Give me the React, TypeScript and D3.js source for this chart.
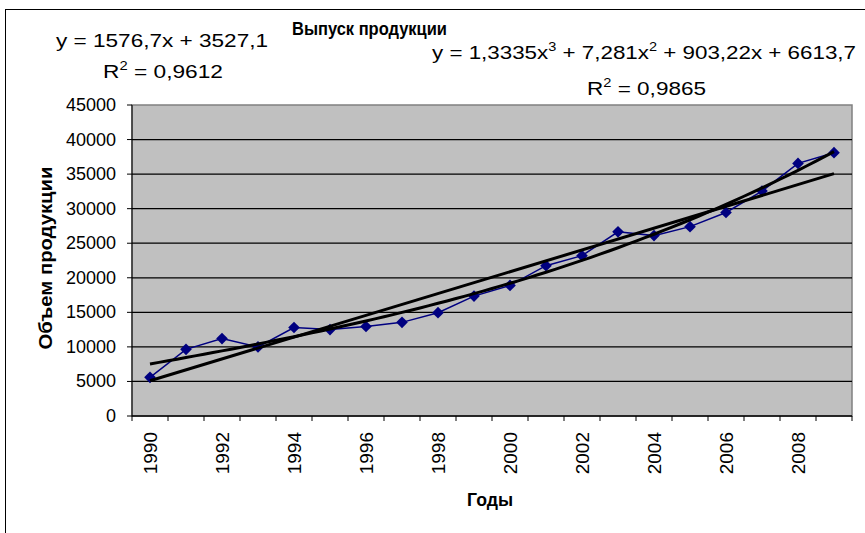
import * as d3 from "d3";

const years = [
  "1990", "1991", "1992", "1993", "1994", "1995", "1996", "1997", "1998", "1999",
  "2000", "2001", "2002", "2003", "2004", "2005", "2006", "2007", "2008", "2009",
];
const production = [
  5600, 9650, 11200, 10000, 12800, 12500, 12950, 13550, 14950, 17350,
  18900, 21750, 23200, 26650, 26100, 27400, 29450, 32550, 36550, 38100,
];
const yTicks = [0, 5000, 10000, 15000, 20000, 25000, 30000, 35000, 40000, 45000];
const xLabels = ["1990", "1992", "1994", "1996", "1998", "2000", "2002", "2004", "2006", "2008"];

// trendline coefficients as printed on the chart
const linCoef = [1576.7, 3527.1];
const polyCoef = [1.3335, 7.281, 903.22, 6613.7];

const W = 865;
const H = 533;
const plot = { left: 132, right: 852, top: 105, bottom: 416 };
const font = "'Liberation Sans', Arial, sans-serif";

export default function App() {
  const x = d3.scaleBand<string>().domain(years).range([plot.left, plot.right]);
  const cx = (yr: string) => (x(yr) ?? 0) + x.bandwidth() / 2;
  const y = d3.scaleLinear().domain([0, 45000]).range([plot.bottom, plot.top]);
  // trendline x is the point index 1..20
  const xi = d3.scaleLinear().domain([1, years.length]).range([cx(years[0]), cx(years[years.length - 1])]);

  const dataLine = d3
    .line<number>()
    .x((_, i) => cx(years[i]))
    .y((d) => y(d))(production);

  const linLine = d3
    .line<number>()
    .x((t) => xi(t))
    .y((t) => y(linCoef[0] * t + linCoef[1]))([1, years.length]);

  const steps = d3.range(1, years.length + 0.001, 0.25);
  const polyLine = d3
    .line<number>()
    .x((t) => xi(t))
    .y((t) => y(polyCoef[0] * t ** 3 + polyCoef[1] * t ** 2 + polyCoef[2] * t + polyCoef[3]))(steps);

  const diamond = d3.symbol().type(d3.symbolSquare).size(68)();

  return (
    <svg
      width={W}
      height={H}
      style={{ position: "absolute", left: 0, top: 0, background: "#fff" }}
      fontFamily={font}
    >
      <rect x={5.5} y={9.5} width={W + 20} height={H + 20} fill="#fff" stroke="#000" />

      {/* plot area */}
      <rect
        x={plot.left}
        y={plot.top}
        width={plot.right - plot.left}
        height={plot.bottom - plot.top}
        fill="#C0C0C0"
        stroke="#808080"
        strokeWidth={1.5}
      />
      {yTicks.slice(1, -1).map((t) => (
        <line key={t} x1={plot.left} x2={plot.right} y1={y(t)} y2={y(t)} stroke="#000" strokeWidth={1.2} />
      ))}

      {/* axes */}
      <line x1={plot.left} x2={plot.left} y1={plot.top} y2={plot.bottom} stroke="#000" />
      <line x1={plot.left} x2={plot.right} y1={plot.bottom} y2={plot.bottom} stroke="#000" strokeWidth={1.5} />
      {yTicks.map((t) => (
        <g key={t}>
          <line x1={plot.left - 5} x2={plot.left} y1={y(t)} y2={y(t)} stroke="#000" />
          <text x={116} y={y(t)} textAnchor="end" dominantBaseline="central" fontSize={18}>
            {t}
          </text>
        </g>
      ))}
      {years.concat(["end"]).map((yr, i) => {
        const px = plot.left + i * x.bandwidth();
        return <line key={yr} x1={px} x2={px} y1={plot.bottom} y2={plot.bottom + 5} stroke="#000" />;
      })}
      {xLabels.map((yr) => (
        <text
          key={yr}
          transform={`translate(${cx(yr)},432) rotate(-90)`}
          textAnchor="end"
          dominantBaseline="central"
          fontSize={19}
        >
          {yr}
        </text>
      ))}

      {/* series and trendlines */}
      <path d={dataLine ?? ""} fill="none" stroke="#000080" strokeWidth={1.5} />
      {production.map((v, i) => (
        <path key={i} d={diamond ?? ""} transform={`translate(${cx(years[i])},${y(v)}) rotate(45)`} fill="#000080" />
      ))}
      <path d={linLine ?? ""} fill="none" stroke="#000" strokeWidth={3} />
      <path d={polyLine ?? ""} fill="none" stroke="#000" strokeWidth={3} />

      {/* titles */}
      <text x={292} y={35} fontSize={19} fontWeight="bold" textLength={155} lengthAdjust="spacingAndGlyphs">
        Выпуск продукции
      </text>
      <text x={467} y={506} fontSize={19} fontWeight="bold" textLength={46} lengthAdjust="spacingAndGlyphs">
        Годы
      </text>
      <text
        transform="translate(52,258) rotate(-90)"
        textAnchor="middle"
        fontSize={18}
        fontWeight="bold"
        textLength={183}
        lengthAdjust="spacingAndGlyphs"
      >
        Объем продукции
      </text>

      {/* trendline labels */}
      <text x={56} y={47} fontSize={18.5} textLength={212} lengthAdjust="spacingAndGlyphs">
        y = 1576,7x + 3527,1
      </text>
      <text x={103} y={78} fontSize={18.5} textLength={120} lengthAdjust="spacingAndGlyphs">
        R<tspan fontSize={12} dy={-8}>2</tspan>
        <tspan dy={8}> = 0,9612</tspan>
      </text>
      <text x={432} y={58.5} fontSize={18.5} textLength={424} lengthAdjust="spacingAndGlyphs">
        y = 1,3335x<tspan fontSize={12} dy={-8}>3</tspan>
        <tspan dy={8}> + 7,281x</tspan>
        <tspan fontSize={12} dy={-8}>2</tspan>
        <tspan dy={8}> + 903,22x + 6613,7</tspan>
      </text>
      <text x={587} y={95} fontSize={18.5} textLength={119} lengthAdjust="spacingAndGlyphs">
        R<tspan fontSize={12} dy={-8}>2</tspan>
        <tspan dy={8}> = 0,9865</tspan>
      </text>
    </svg>
  );
}
